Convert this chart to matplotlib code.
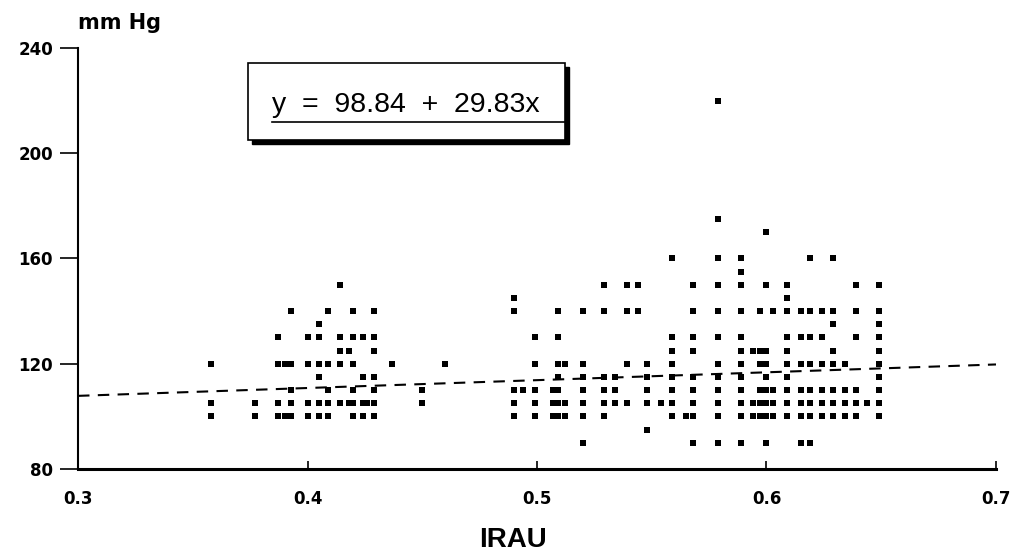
import matplotlib
matplotlib.use("Agg")
import matplotlib.pyplot as plt
from matplotlib.patches import Rectangle
import numpy as np

# ---- data (x column positions and the y values found in each column) ----
col_x = [0.358, 0.377, 0.387, 0.390, 0.393, 0.400, 0.405, 0.409, 0.414, 0.418,
         0.420, 0.424, 0.426, 0.429, 0.437, 0.450, 0.460, 0.490, 0.494, 0.499,
         0.507, 0.509, 0.512, 0.520, 0.529, 0.534, 0.539, 0.544, 0.548, 0.554,
         0.559, 0.565, 0.568, 0.579, 0.589, 0.594, 0.597, 0.600, 0.603, 0.609,
         0.615, 0.619, 0.624, 0.629, 0.634, 0.639, 0.644, 0.649]
col_y = [
    [120, 105, 100],
    [105, 100],
    [130, 120, 105, 100],
    [120, 100],
    [140, 120, 110, 105, 100],
    [130, 120, 105, 100],
    [135, 130, 120, 115, 105, 100],
    [140, 120, 110, 105, 100],
    [150, 130, 125, 120, 105],
    [125, 105],
    [140, 130, 120, 110, 105, 100],
    [130, 115, 105, 100],
    [105],
    [140, 130, 125, 115, 110, 105, 100],
    [120],
    [110, 105],
    [120],
    [145, 140, 110, 105, 100],
    [110],
    [130, 120, 110, 105, 100],
    [110, 105, 100],
    [140, 130, 120, 115, 110, 105, 100],
    [120, 105, 100],
    [140, 120, 115, 110, 105, 100, 90],
    [150, 140, 115, 110, 105, 100],
    [115, 110, 105],
    [150, 140, 120, 105],
    [150, 140],
    [120, 115, 110, 105, 95],
    [105],
    [160, 130, 125, 120, 115, 110, 105, 100],
    [100],
    [150, 140, 130, 125, 115, 110, 105, 100, 90],
    [220, 175, 160, 150, 140, 130, 120, 115, 110, 105, 100, 90],
    [160, 155, 150, 140, 130, 125, 120, 115, 110, 105, 100, 90],
    [125, 105, 100],
    [140, 125, 120, 110, 105, 100],
    [170, 150, 125, 120, 115, 110, 105, 100, 90],
    [140, 110, 105, 100],
    [150, 145, 140, 130, 125, 120, 115, 110, 105, 100],
    [140, 130, 120, 110, 105, 100, 90],
    [160, 140, 130, 120, 110, 105, 100, 90],
    [140, 130, 120, 110, 105, 100],
    [160, 140, 135, 125, 120, 110, 105, 100],
    [120, 110, 105, 100],
    [150, 140, 130, 110, 105, 100],
    [105],
    [150, 140, 135, 130, 125, 120, 115, 110, 105, 100],
]
intercept = 98.84
slope = 29.83
x_ticks = [0.3, 0.4, 0.5, 0.6, 0.7]
x_tick_labels = ["0.3", "0.4", "0.5", "0.6", "0.7"]
y_ticks = [80, 120, 160, 200, 240]
y_tick_labels = ["80", "120", "160", "200", "240"]
equation = "y  =  98.84  +  29.83x"

xs = [x for x, ys in zip(col_x, col_y) for _ in ys]
ys = [y for col in col_y for y in col]

plt.rcParams['font.family'] = ['Liberation Sans', 'DejaVu Sans']

fig = plt.figure(figsize=(10.16, 5.57), dpi=100)
ax = fig.add_axes([0.0768, 0.158, 0.9035, 0.756])

ax.scatter(xs, ys, marker='s', s=23, color='black', linewidths=0, zorder=3)

lx = np.array([0.3, 0.7])
ax.plot(lx, intercept + slope * lx, color='black', lw=1.5,
        linestyle=(0, (5.5, 4)), zorder=2)

ax.set_xlim(0.3, 0.7)
ax.set_ylim(80, 240)
ax.set_xticks(x_ticks)
ax.set_xticklabels(x_tick_labels)
ax.set_yticks(y_ticks)
ax.set_yticklabels(y_tick_labels)
for s in ['top', 'right']:
    ax.spines[s].set_visible(False)
ax.spines['left'].set_linewidth(1.5)
ax.spines['bottom'].set_linewidth(2.2)
ax.tick_params(axis='y', direction='out', length=13, width=1.2, pad=5)
ax.tick_params(axis='x', direction='in', length=6, width=1.2, pad=15)
for lab in ax.get_xticklabels() + ax.get_yticklabels():
    lab.set_fontfamily('DejaVu Sans')
    lab.set_fontweight('bold')
    lab.set_fontsize(12)

# equation box with shadow
bx0, by0, bw, bh = 0.185, 0.781, 0.345, 0.183
ax.add_patch(Rectangle((bx0 + 0.005, by0 - 0.009), bw, bh, transform=ax.transAxes,
                       facecolor='black', edgecolor='black', zorder=4,
                       clip_on=False))
ax.add_patch(Rectangle((bx0, by0), bw, bh, transform=ax.transAxes,
                       facecolor='white', edgecolor='black', lw=1.2, zorder=5,
                       clip_on=False))
ax.text(0.211, 0.865, equation, transform=ax.transAxes, fontsize=20.5,
        ha='left', va='center', zorder=6)
ax.plot([0.211, 0.530], [0.824, 0.824], transform=ax.transAxes, color='black',
        lw=1.2, zorder=6, clip_on=False)

fig.text(0.077, 0.958, "mm Hg", fontsize=15, fontweight='bold',
         family=['DejaVu Sans'], ha='left', va='center')
fig.text(0.505, 0.03, "IRAU", fontsize=20, fontweight='bold',
         family=['Liberation Sans', 'DejaVu Sans'],
         ha='center', va='center')

fig.savefig("out.png", dpi=100)
